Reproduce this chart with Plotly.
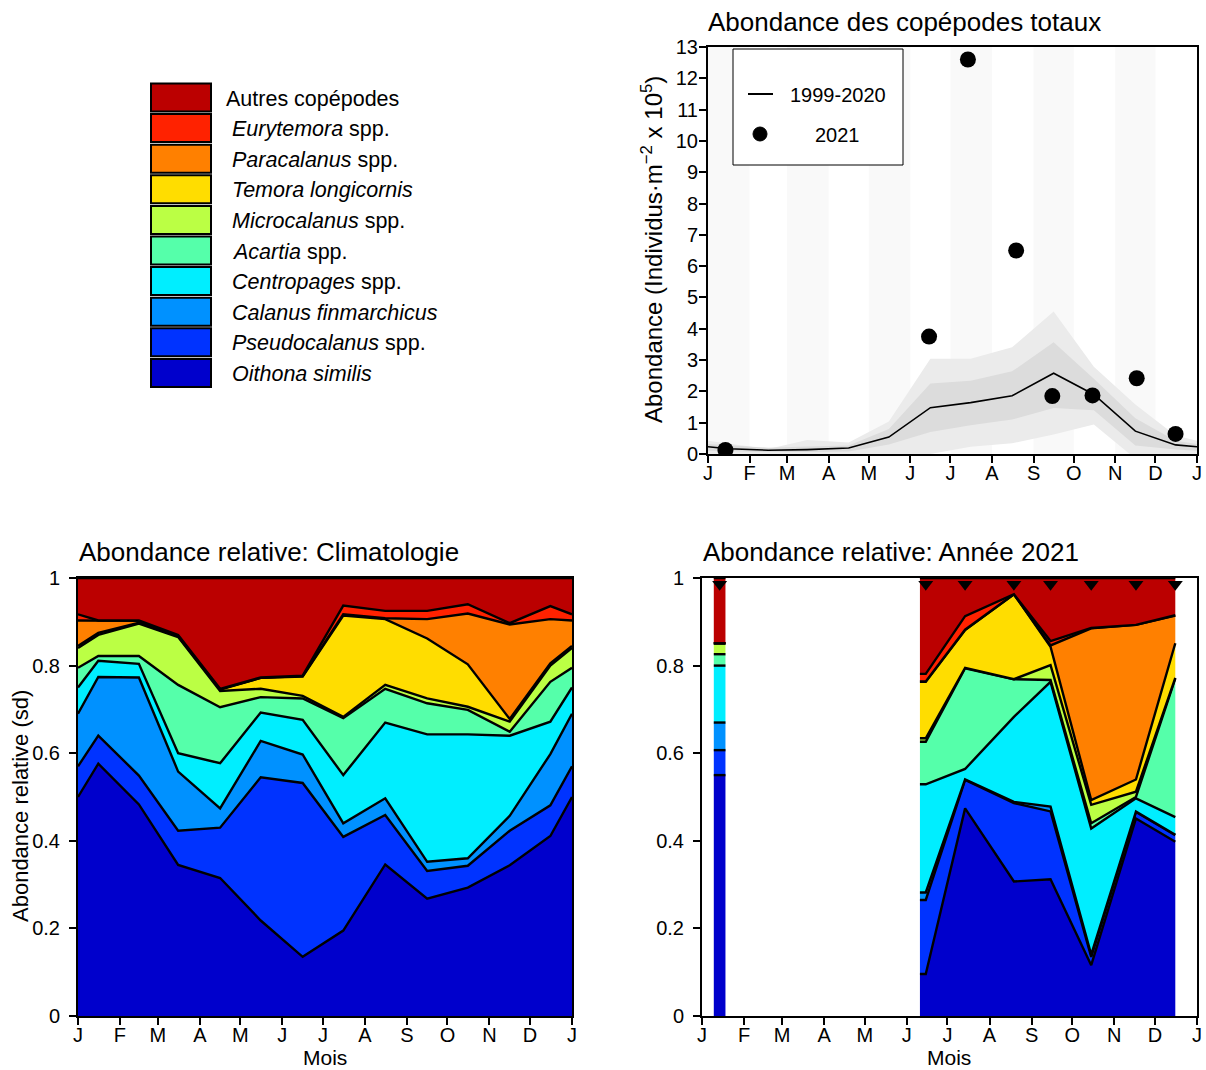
import plotly.graph_objects as go

W, H = 1206, 1070
FONT = "Liberation Sans, Arial, sans-serif"

# ---------------- axis definitions ----------------
MONTH_STARTS = [0, 31, 59, 90, 120, 151, 181, 212, 243, 273, 304, 334, 365]
MONTH_LABELS = ["J", "F", "M", "A", "M", "J", "J", "A", "S", "O", "N", "D", "J"]

# ---------------- top-right: total copepod abundance ----------------
clim_days = [0, 15, 45, 74, 105, 135, 166, 196, 227, 258, 288, 319, 349, 365]
tot_mean = [0.23, 0.17, 0.12, 0.14, 0.19, 0.54, 1.48, 1.64, 1.86, 2.58, 1.90, 0.73, 0.29, 0.23]
tot_inner_hi = [0.32, 0.28, 0.20, 0.24, 0.27, 0.80, 2.25, 2.34, 2.64, 3.57, 2.40, 1.14, 0.42, 0.32]
tot_inner_lo = [0.10, 0.08, 0.06, 0.06, 0.08, 0.30, 0.70, 0.92, 1.10, 1.47, 1.40, 0.27, 0.14, 0.10]
tot_outer_hi = [0.42, 0.33, 0.16, 0.45, 0.37, 1.04, 3.04, 3.04, 3.41, 4.55, 2.79, 1.58, 0.59, 0.42]
tot_outer_lo = [0.0, 0.0, 0.0, 0.0, 0.0, 0.0, 0.0, 0.23, 0.34, 0.62, 0.94, -0.15, 0.0, 0.0]

yr_days = [13, 165, 194, 230, 257, 287, 320, 349]
tot_2021 = [0.13, 3.75, 12.6, 6.5, 1.85, 1.87, 2.42, 0.64]

# ---------------- species (bottom -> top) ----------------
species = ["Oithona similis", "Pseudocalanus spp.", "Calanus finmarchicus",
           "Centropages spp.", "Acartia spp.", "Microcalanus spp.",
           "Temora longicornis", "Paracalanus spp.", "Eurytemora spp.",
           "Autres copépodes"]
species_labels = ["<i>Oithona similis</i>", "<i>Pseudocalanus</i> spp.",
                  "<i>Calanus finmarchicus</i>", "<i>Centropages</i> spp.",
                  "<i>Acartia</i> spp.", "<i>Microcalanus</i> spp.",
                  "<i>Temora longicornis</i>", "<i>Paracalanus</i> spp.",
                  "<i>Eurytemora</i> spp.", "Autres copépodes"]
colors = ["#0000CC", "#0033FF", "#0091FF", "#00EEFF", "#55FFAA",
          "#BBFF44", "#FFDD00", "#FF8000", "#FF2200", "#BB0000"]

# climatology relative abundance (values at clim_days)
clim_oithona = [0.500, 0.576, 0.483, 0.345, 0.315, 0.218, 0.135, 0.195, 0.346, 0.268, 0.293, 0.344, 0.411, 0.500]
clim_pseudo = [0.070, 0.064, 0.066, 0.078, 0.115, 0.327, 0.397, 0.214, 0.113, 0.063, 0.050, 0.079, 0.070, 0.070]
clim_calanus = [0.120, 0.134, 0.224, 0.135, 0.044, 0.083, 0.065, 0.031, 0.038, 0.021, 0.017, 0.034, 0.117, 0.120]
clim_centro = [0.060, 0.037, 0.031, 0.042, 0.103, 0.065, 0.079, 0.110, 0.173, 0.291, 0.283, 0.183, 0.074, 0.060]
clim_acartia = [0.045, 0.011, 0.018, 0.156, 0.128, 0.035, 0.049, 0.130, 0.077, 0.071, 0.056, 0.009, 0.091, 0.045]
clim_micro = [0.045, 0.048, 0.074, 0.109, 0.037, 0.019, 0.006, 0.003, 0.009, 0.011, 0.007, 0.023, 0.037, 0.045]
clim_temora = [0.005, 0.005, 0.002, 0.002, 0.003, 0.025, 0.044, 0.231, 0.150, 0.137, 0.097, 0.006, 0.005, 0.005]
clim_paraca = [0.058, 0.028, 0.004, 0.002, 0.001, 0.000, 0.001, 0.003, 0.002, 0.044, 0.116, 0.216, 0.101, 0.058]
clim_eury = [0.014, 0.000, 0.001, 0.001, 0.001, 0.001, 0.001, 0.020, 0.017, 0.019, 0.021, 0.003, 0.030, 0.014]
clim_autres = [0.083, 0.097, 0.097, 0.130, 0.253, 0.227, 0.223, 0.063, 0.075, 0.075, 0.060, 0.103, 0.064, 0.083]

# 2021 relative abundance (values at yr_days)
yr_oithona = [0.550, 0.096, 0.474, 0.307, 0.312, 0.116, 0.451, 0.398]
yr_pseudo = [0.057, 0.169, 0.065, 0.179, 0.155, 0.019, 0.015, 0.015]
yr_calanus = [0.063, 0.017, 0.001, 0.003, 0.011, 0.005, 0.001, 0.001]
yr_centro = [0.130, 0.247, 0.024, 0.194, 0.285, 0.288, 0.030, 0.040]
yr_acartia = [0.026, 0.097, 0.230, 0.086, 0.004, 0.012, 0.003, 0.317]
yr_micro = [0.025, 0.008, 0.001, 0.000, 0.034, 0.042, 0.012, 0.001]
yr_temora = [0.000, 0.129, 0.086, 0.194, 0.042, 0.011, 0.028, 0.079]
yr_paraca = [0.000, 0.001, 0.001, 0.000, 0.003, 0.392, 0.353, 0.063]
yr_eury = [0.000, 0.017, 0.031, 0.000, 0.010, 0.001, 0.000, 0.001]
yr_autres = [0.149, 0.219, 0.087, 0.037, 0.144, 0.114, 0.107, 0.085]

clim_series = [clim_oithona, clim_pseudo, clim_calanus, clim_centro, clim_acartia,
               clim_micro, clim_temora, clim_paraca, clim_eury, clim_autres]
yr_series = [yr_oithona, yr_pseudo, yr_calanus, yr_centro, yr_acartia,
             yr_micro, yr_temora, yr_paraca, yr_eury, yr_autres]

# styling constants
PAD_DAYS = 4.3          # half width drawn around sampling runs
RUN_GAP = 60            # days separating sampling runs
TRI_Y = 0.986
STRIPE = "#F9F9F9"
OUTER = "#EBEBEB"
INNER = "#DCDCDC"
TICK_SIZE = 20
LINE_W = 2.4


def px_x(p):
    return p / W


def px_y(p):
    return 1 - p / H


fig = go.Figure()

# ---------- top-right panel ----------
fig.add_trace(go.Scatter(x=clim_days, y=tot_outer_lo, mode="lines", line=dict(width=0),
                         xaxis="x", yaxis="y", showlegend=False, hoverinfo="skip"))
fig.add_trace(go.Scatter(x=clim_days, y=tot_outer_hi, mode="lines", line=dict(width=0),
                         fill="tonexty", fillcolor=OUTER, xaxis="x", yaxis="y",
                         showlegend=False, hoverinfo="skip"))
fig.add_trace(go.Scatter(x=clim_days, y=tot_inner_lo, mode="lines", line=dict(width=0),
                         xaxis="x", yaxis="y", showlegend=False, hoverinfo="skip"))
fig.add_trace(go.Scatter(x=clim_days, y=tot_inner_hi, mode="lines", line=dict(width=0),
                         fill="tonexty", fillcolor=INNER, xaxis="x", yaxis="y",
                         showlegend=False, hoverinfo="skip"))
fig.add_trace(go.Scatter(x=clim_days, y=tot_mean, mode="lines",
                         line=dict(color="black", width=1.6),
                         xaxis="x", yaxis="y", showlegend=False))
fig.add_trace(go.Scatter(x=yr_days, y=tot_2021, mode="markers",
                         marker=dict(color="black", size=16),
                         xaxis="x", yaxis="y", showlegend=False))

# ---------- bottom-left: climatology stacked areas ----------
for name, vals, col in zip(species, clim_series, colors):
    fig.add_trace(go.Scatter(x=clim_days, y=vals, mode="lines", name=name,
                             stackgroup="clim", fillcolor=col,
                             line=dict(color="black", width=LINE_W),
                             xaxis="x2", yaxis="y2", showlegend=False))

# ---------- bottom-right: 2021 stacked areas by sampling run ----------
runs = [[0]]
for i in range(1, len(yr_days)):
    if yr_days[i] - yr_days[i - 1] > RUN_GAP:
        runs.append([i])
    else:
        runs[-1].append(i)

for r_i, idx in enumerate(runs):
    if len(idx) == 1:
        d = yr_days[idx[0]]
        xs = [d - PAD_DAYS, d + PAD_DAYS]
        pick = [idx[0], idx[0]]
    else:
        xs = [yr_days[idx[0]] - PAD_DAYS] + [yr_days[k] for k in idx]
        pick = [idx[0]] + idx
    for name, vals, col in zip(species, yr_series, colors):
        fig.add_trace(go.Scatter(x=xs, y=[vals[k] for k in pick], mode="lines",
                                 name=name, stackgroup="run%d" % r_i, fillcolor=col,
                                 line=dict(color="black", width=LINE_W),
                                 xaxis="x3", yaxis="y3", showlegend=False))

fig.add_trace(go.Scatter(x=yr_days, y=[TRI_Y] * len(yr_days), mode="markers",
                         marker=dict(symbol="triangle-down", size=13, color="black"),
                         xaxis="x3", yaxis="y3", showlegend=False, cliponaxis=False))

# ---------- axes ----------
common_x = dict(range=[0, 365], tickmode="array", tickvals=MONTH_STARTS,
                ticktext=MONTH_LABELS, ticks="outside", ticklen=7, tickwidth=1.5,
                tickcolor="black", showline=True, mirror=True, linewidth=2,
                linecolor="black", showgrid=False, zeroline=False, automargin=False,
                ticklabelstandoff=-7,
                tickfont=dict(size=TICK_SIZE, color="black", family=FONT))
common_y = dict(ticks="outside", ticklen=7, tickwidth=1.5, tickcolor="black",
                showline=True, mirror=True, linewidth=2, linecolor="black",
                showgrid=False, zeroline=False, automargin=False,
                tickfont=dict(size=TICK_SIZE, color="black", family=FONT))

rel_ticks = [0, 0.2, 0.4, 0.6, 0.8, 1.0]
rel_text = ["0", "0.2", "0.4", "0.6", "0.8", "1"]

fig.update_layout(
    width=W, height=H, autosize=False,
    margin=dict(l=0, r=0, t=0, b=0, pad=0, autoexpand=False),
    paper_bgcolor="white", plot_bgcolor="white",
    font=dict(family=FONT, color="black"),
    showlegend=False,
    xaxis=dict(domain=[px_x(708), px_x(1197)], anchor="y", **common_x),
    yaxis=dict(domain=[px_y(454), px_y(47)], anchor="x", range=[0, 13],
               tickmode="array", tickvals=list(range(0, 14)),
               ticklabelstandoff=-3, **common_y),
    xaxis2=dict(domain=[px_x(78), px_x(572)], anchor="y2", **common_x),
    yaxis2=dict(domain=[px_y(1016), px_y(578)], anchor="x2", range=[0, 1],
                tickmode="array", tickvals=rel_ticks, ticktext=rel_text,
                ticklabelstandoff=5, **common_y),
    xaxis3=dict(domain=[px_x(702), px_x(1197)], anchor="y3", **common_x),
    yaxis3=dict(domain=[px_y(1016), px_y(578)], anchor="x3", range=[0, 1],
                tickmode="array", tickvals=rel_ticks, ticktext=rel_text,
                ticklabelstandoff=5, **common_y),
)

shapes = []
# month stripes in the top-right panel
for m in range(0, 12, 2):
    shapes.append(dict(type="rect", xref="x", yref="y", x0=MONTH_STARTS[m],
                       x1=MONTH_STARTS[m + 1], y0=0, y1=13, fillcolor=STRIPE,
                       line=dict(width=0), layer="below"))

# top-right legend box
shapes.append(dict(type="rect", xref="paper", yref="paper", x0=px_x(733), x1=px_x(903),
                   y0=px_y(165), y1=px_y(49), fillcolor="white",
                   line=dict(color="black", width=1), layer="above"))
shapes.append(dict(type="line", xref="paper", yref="paper", x0=px_x(748), x1=px_x(773),
                   y0=px_y(94), y1=px_y(94), line=dict(color="black", width=2),
                   layer="above"))
shapes.append(dict(type="circle", xref="paper", yref="paper", x0=px_x(753), x1=px_x(767),
                   y0=px_y(141), y1=px_y(127), fillcolor="black",
                   line=dict(color="black", width=1), layer="above"))

# species legend (top to bottom)
annotations = []
BOX_TOP, BOX_STEP, BOX_H = 83.5, 30.6, 28
for j, k in enumerate(range(len(species) - 1, -1, -1)):
    top = BOX_TOP + j * BOX_STEP
    shapes.append(dict(type="rect", xref="paper", yref="paper", x0=px_x(151), x1=px_x(211),
                       y0=px_y(top + BOX_H), y1=px_y(top), fillcolor=colors[k],
                       line=dict(color="black", width=2), layer="above"))
    annotations.append(dict(text=species_labels[k], xref="paper", yref="paper",
                            x=px_x(224 if j == 0 else 230), y=px_y(top + BOX_H / 2 + 1),
                            xanchor="left", yanchor="middle", showarrow=False,
                            font=dict(size=21.5, family=FONT, color="black")))

annotations += [
    dict(text="1999-2020", xref="paper", yref="paper", x=px_x(838), y=px_y(95),
         xanchor="center", yanchor="middle", showarrow=False, font=dict(size=20)),
    dict(text="2021", xref="paper", yref="paper", x=px_x(838), y=px_y(135),
         xanchor="center", yanchor="middle", showarrow=False, font=dict(size=20)),
    dict(text="Abondance des copépodes totaux", xref="paper", yref="paper",
         x=px_x(706), y=px_y(22), xanchor="left", yanchor="middle",
         showarrow=False, font=dict(size=26)),
    dict(text="Abondance relative: Climatologie", xref="paper", yref="paper",
         x=px_x(77), y=px_y(552), xanchor="left", yanchor="middle",
         showarrow=False, font=dict(size=26)),
    dict(text="Abondance relative: Année 2021", xref="paper", yref="paper",
         x=px_x(701), y=px_y(552), xanchor="left", yanchor="middle",
         showarrow=False, font=dict(size=26)),
    dict(text="Abondance (Individus·m<sup>−2</sup> x 10<sup>5</sup>)", xref="paper",
         yref="paper", x=px_x(652), y=px_y(250), xanchor="center", yanchor="middle",
         textangle=-90, showarrow=False, font=dict(size=24)),
    dict(text="Abondance relative (sd)", xref="paper", yref="paper", x=px_x(20),
         y=px_y(806), xanchor="center", yanchor="middle", textangle=-90,
         showarrow=False, font=dict(size=22)),
    dict(text="Mois", xref="paper", yref="paper", x=px_x(325), y=px_y(1057),
         xanchor="center", yanchor="middle", showarrow=False, font=dict(size=21)),
    dict(text="Mois", xref="paper", yref="paper", x=px_x(949), y=px_y(1057),
         xanchor="center", yanchor="middle", showarrow=False, font=dict(size=21)),
]

fig.update_layout(shapes=shapes, annotations=annotations)

PAGE_FIX = (
    "document.documentElement.style.margin='0';"
    "document.documentElement.style.overflow='hidden';"
    "document.body.style.margin='0';"
    "document.body.style.overflow='hidden';"
    "var gd=document.getElementById('{plot_id}');"
    "gd.style.position='fixed';gd.style.left='0px';gd.style.top='0px';"
)
fig.write_html("out.html", config={"displayModeBar": False}, post_script=PAGE_FIX)
